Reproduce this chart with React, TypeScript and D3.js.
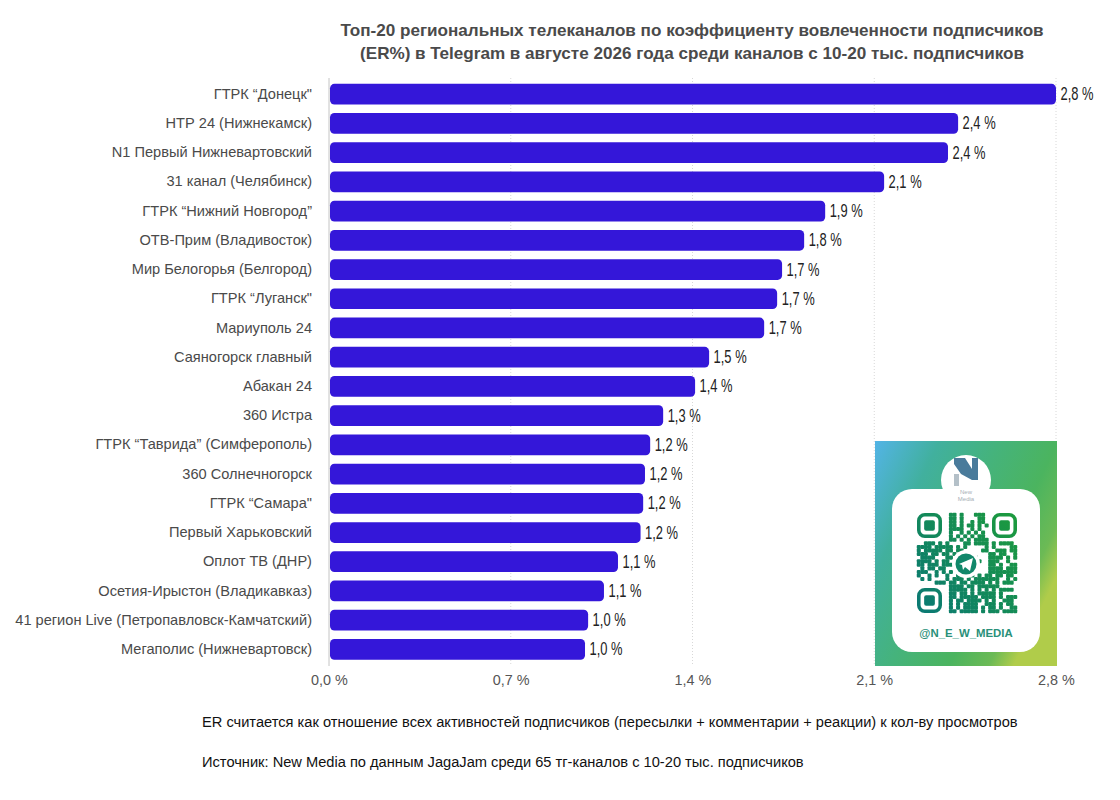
import React, { useEffect, useRef } from 'react';
import * as d3 from 'd3';

const channels = [
  'ГТРК “Донецк"', 'НТР 24 (Нижнекамск)', 'N1 Первый Нижневартовский', '31 канал (Челябинск)',
  'ГТРК “Нижний Новгород”', 'ОТВ-Прим (Владивосток)', 'Мир Белогорья (Белгород)', 'ГТРК “Луганск"',
  'Мариуполь 24', 'Саяногорск главный', 'Абакан 24', '360 Истра',
  'ГТРК “Таврида” (Симферополь)', '360 Солнечногорск', 'ГТРК “Самара"', 'Первый Харьковский',
  'Оплот ТВ (ДНР)', 'Осетия-Ирыстон (Владикавказ)', '41 регион Live (Петропавловск-Камчатский)', 'Мегаполис (Нижневартовск)',
];
const erValues = [
  2.8, 2.423, 2.384, 2.138, 1.911, 1.83, 1.745, 1.726, 1.676, 1.464,
  1.41, 1.287, 1.237, 1.217, 1.21, 1.2, 1.113, 1.059, 0.998, 0.986,
];
const xTicks = [0, 0.7, 1.4, 2.1, 2.8];
const titleLines = [
  'Топ-20 региональных телеканалов по коэффициенту вовлеченности подписчиков',
  '(ER%) в Telegram в августе 2026 года среди каналов с 10-20 тыс. подписчиков',
];
const footnotes = [
  'ER считается как отношение всех активностей подписчиков (пересылки + комментарии + реакции) к кол-ву просмотров',
  'Источник: New Media по данным JagaJam среди 65 тг-каналов с 10-20 тыс. подписчиков',
];
const qrHandle = '@N_E_W_MEDIA';
// rough trace of the code, finder squares are drawn on their own
const qrRows = [
  '.......0.1101.0.111.0.......',
  '.......0.11.1.00.11.0.......',
  '.......0.1101..1.1100.......',
  '.......0.11.1.11.1.10.......',
  '.......0.1111.0101..0.......',
  '.......0.1.01.1.1.1.0.......',
  '.......0.1.1.1.1.11.0.......',
  '00000000.11.1.1.11110.00000.',
  '..111.1.1.00.11.1111.1.1111.',
  '1111.11111.1.1.....1.1....11',
  '1.11111.11.11.....11..111.11',
  '111.11.11.1....00...11.11..1',
  '.1111...11..0.111.0.1111.1.1',
  '1111.1.11...0.1111..111..1..',
  '11.111.1111.0.111.0.11.1..11',
  '.1.11.11.....0...00.1111.111',
  '111..1.1.1.1...1....11111111',
  '1..1.1..1..11..1.1.11.11.11.',
  '.1.1....1.111.1.1111111..1.1',
  '.....111.11.11.1111.1.1.111.',
  '00000000.1111.11.111111.....',
  '.......0.11111.1.1.1.1.1111.',
  '.......0.11.11.1.11111.1....',
  '.......0.11.11111.1111.1.111',
  '.......0.1.11.1111.1.1..111.',
  '.......0.1.1.1111..111.1.11.',
  '.......0.1.1.1111.1.11.1..11',
  '.......0.11.11111.1.111.1111',
];

const fontName = '"Liberation Sans", Arial, sans-serif';
const formatPct = (v: number) => `${d3.format('.1f')(v).replace('.', ',')} %`;

export default function App() {
  const svgRef = useRef<SVGSVGElement>(null);

  useEffect(() => {
    if (!svgRef.current) return;
    const svg = d3.select(svgRef.current);
    svg.selectAll('*').remove();

    const x = d3.scaleLinear().domain([0, 2.8]).range([329, 1056]);
    const y = d3.scaleBand<string>().domain(channels).range([79.6, 664]).paddingInner(0.29).paddingOuter(0.145);

    // Title
    svg.append('g')
      .selectAll('text')
      .data(titleLines)
      .join('text')
      .attr('x', 692)
      .attr('y', (_, i) => 36 + i * 23)
      .attr('text-anchor', 'middle')
      .attr('font-family', fontName)
      .attr('font-weight', 700)
      .attr('font-size', 17.1)
      .attr('fill', '#4a4a4a')
      .text(d => d);

    // Grid lines
    svg.append('g')
      .selectAll('line')
      .data(xTicks.slice(1))
      .join('line')
      .attr('x1', d => x(d))
      .attr('x2', d => x(d))
      .attr('y1', 78)
      .attr('y2', 666)
      .attr('stroke', '#d8d8d8')
      .attr('stroke-width', 1)
      .attr('stroke-dasharray', '1,2');

    svg.append('line')
      .attr('x1', x(0))
      .attr('x2', x(0))
      .attr('y1', 78)
      .attr('y2', 666)
      .attr('stroke', '#c4c4c4');

    // X axis
    const xAxis = d3.axisBottom(x).tickValues(xTicks).tickSize(0).tickFormat(d => formatPct(d as number));
    svg.append('g')
      .attr('transform', 'translate(0, 666)')
      .call(xAxis)
      .call(g => g.select('.domain').remove())
      .call(g => g.selectAll('.tick text')
        .attr('y', 19)
        .attr('dy', 0)
        .attr('fill', '#555')
        .attr('font-family', fontName)
        .attr('font-size', 14.4));

    // Category labels
    svg.append('g')
      .selectAll('text')
      .data(channels)
      .join('text')
      .attr('x', 312)
      .attr('y', d => y(d)! + y.bandwidth() / 2 + 4.6)
      .attr('text-anchor', 'end')
      .attr('font-family', fontName)
      .attr('font-size', 14.6)
      .attr('fill', '#4a4a4a')
      .text(d => d);

    // Bars
    svg.append('g')
      .selectAll('rect')
      .data(erValues)
      .join('rect')
      .attr('x', x(0) + 1)
      .attr('y', (_, i) => y(channels[i])!)
      .attr('width', d => x(d) - x(0) - 1)
      .attr('height', y.bandwidth())
      .attr('rx', 4.5)
      .attr('fill', '#3417d9');

    // Value labels, the original face is condensed so squeeze them
    svg.append('g')
      .selectAll('text')
      .data(erValues)
      .join('text')
      .attr('x', d => x(d) + 4.5)
      .attr('y', (_, i) => y(channels[i])! + y.bandwidth() / 2 + 6)
      .attr('font-family', fontName)
      .attr('font-size', 18.5)
      .attr('textLength', 33)
      .attr('lengthAdjust', 'spacingAndGlyphs')
      .attr('fill', '#222')
      .text(d => formatPct(d));

    // Footnotes
    svg.append('g')
      .selectAll('text')
      .data(footnotes)
      .join('text')
      .attr('x', 202)
      .attr('y', (_, i) => 727 + i * 40)
      .attr('font-family', fontName)
      .attr('font-size', 14.65)
      .attr('fill', '#111')
      .text(d => d);

    // QR sticker
    const defs = svg.append('defs');
    const bgGrad = defs.append('linearGradient')
      .attr('id', 'qr-bg')
      .attr('x1', '0%').attr('y1', '0%').attr('x2', '100%').attr('y2', '60%');
    [['0%', '#53b4e6'], ['26%', '#41b09e'], ['50%', '#45b37c'], ['74%', '#4bb45f'], ['90%', '#6cba55'], ['100%', '#b0cc4a']].forEach(([o, c]) => {
      bgGrad.append('stop').attr('offset', o).attr('stop-color', c);
    });
    const inkGrad = defs.append('linearGradient')
      .attr('id', 'qr-ink')
      .attr('gradientUnits', 'userSpaceOnUse')
      .attr('x1', 917).attr('y1', 600).attr('x2', 1017).attr('y2', 520);
    inkGrad.append('stop').attr('offset', '0%').attr('stop-color', '#0b7a72');
    inkGrad.append('stop').attr('offset', '100%').attr('stop-color', '#1c9a3e');

    const sticker = svg.append('g');
    sticker.append('rect').attr('x', 875).attr('y', 441).attr('width', 182).attr('height', 225).attr('fill', 'url(#qr-bg)');
    sticker.append('circle').attr('cx', 966).attr('cy', 480).attr('r', 25).attr('fill', '#fff');
    sticker.append('rect').attr('x', 892).attr('y', 489).attr('width', 148).attr('height', 163).attr('rx', 20).attr('fill', '#fff');

    // New Media logo
    sticker.append('rect').attr('x', 954).attr('y', 474).attr('width', 5).attr('height', 12).attr('fill', '#b4c0c8');
    sticker.append('path')
      .attr('d', 'M954,458 L965,458 L972,469 L972,458 L978,458 L978,480 L972,480 L961,474 L954,464 Z')
      .attr('fill', '#4a7b9b');
    ['New', 'Media'].forEach((t, i) => {
      sticker.append('text')
        .attr('x', 966)
        .attr('y', 494 + i * 7)
        .attr('text-anchor', 'middle')
        .attr('font-family', fontName)
        .attr('font-size', 6)
        .attr('fill', '#a8b0b6')
        .text(t);
    });

    // QR modules
    const qrX = d3.scaleLinear().domain([0, qrRows[0].length]).range([917, 1017]);
    const qrY = d3.scaleLinear().domain([0, qrRows.length]).range([513, 613]);
    const cell = qrX(1) - qrX(0);
    const modules = qrRows.flatMap((row, r) => Array.from(row).map((ch, c) => ({ r, c, on: ch === '1' }))).filter(d => d.on);
    sticker.append('g')
      .selectAll('rect')
      .data(modules)
      .join('rect')
      .attr('x', d => qrX(d.c) - 0.25)
      .attr('y', d => qrY(d.r) - 0.25)
      .attr('width', cell + 0.5)
      .attr('height', cell + 0.5)
      .attr('rx', 1)
      .attr('fill', 'url(#qr-ink)');

    // Finder squares
    [[0, 0], [21, 0], [0, 21]].forEach(([c, r]) => {
      sticker.append('rect')
        .attr('x', qrX(c) + cell / 2)
        .attr('y', qrY(r) + cell / 2)
        .attr('width', cell * 6)
        .attr('height', cell * 6)
        .attr('rx', 6)
        .attr('fill', 'none')
        .attr('stroke', 'url(#qr-ink)')
        .attr('stroke-width', cell);
      sticker.append('rect')
        .attr('x', qrX(c + 2))
        .attr('y', qrY(r + 2))
        .attr('width', cell * 3)
        .attr('height', cell * 3)
        .attr('rx', 2)
        .attr('fill', 'url(#qr-ink)');
    });

    // Telegram mark in the middle of the code
    sticker.append('circle').attr('cx', 966).attr('cy', 564).attr('r', 14).attr('fill', '#fff');
    sticker.append('circle').attr('cx', 966).attr('cy', 564).attr('r', 10.5).attr('fill', '#11876a');
    sticker.append('path').attr('d', 'M959,564 L973,558 L970,571 L965,567 L963,570 L962,565 Z').attr('fill', '#fff');

    sticker.append('text')
      .attr('x', 966)
      .attr('y', 637)
      .attr('text-anchor', 'middle')
      .attr('font-family', fontName)
      .attr('font-weight', 700)
      .attr('font-size', 11.4)
      .attr('fill', '#2a9079')
      .text(qrHandle);
  }, []);

  return <svg ref={svgRef} width={1120} height={800} style={{ position: 'absolute', left: 0, top: 0, background: '#fff' }} />;
}
